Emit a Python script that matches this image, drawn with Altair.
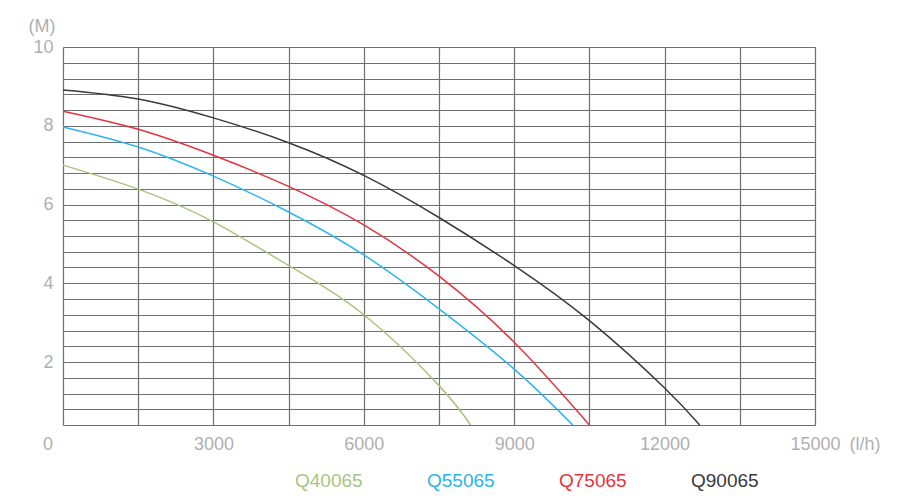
import altair as alt
import pandas as pd

# flow (l/h) and head (M)
flow_q40065 = [0, 1500, 3000, 4500, 6000, 7500, 8130]
head_q40065 = [7.0, 6.39, 5.56, 4.45, 3.20, 1.40, 0.4]

flow_q55065 = [0, 1500, 3000, 4500, 6000, 7500, 9000, 10170]
head_q55065 = [7.97, 7.46, 6.72, 5.81, 4.72, 3.35, 1.82, 0.4]

flow_q75065 = [0, 1500, 3000, 4500, 6000, 7500, 9000, 10500]
head_q75065 = [8.37, 7.91, 7.25, 6.46, 5.48, 4.18, 2.50, 0.4]

flow_q90065 = [0, 1500, 3000, 4500, 6000, 7500, 9000, 10500, 12000, 12700]
head_q90065 = [8.91, 8.68, 8.20, 7.57, 6.74, 5.67, 4.45, 3.05, 1.34, 0.4]

series_names = ["Q40065", "Q55065", "Q75065", "Q90065"]
series_colors = ["#a9c47f", "#2bb5ee", "#e2343f", "#3a3a3a"]

x_grid = [i * 1500 for i in range(11)]
y_grid = [round(0.4 * k + 0.4, 1) for k in range(25)]

rows = []
for name, fl, hd in [
    ("Q40065", flow_q40065, head_q40065),
    ("Q55065", flow_q55065, head_q55065),
    ("Q75065", flow_q75065, head_q75065),
    ("Q90065", flow_q90065, head_q90065),
]:
    for i, (f, h) in enumerate(zip(fl, hd)):
        rows.append({"series": name, "flow": f, "head": h, "order": i})
df = pd.DataFrame(rows)

FONT = "Liberation Sans"
LABEL_COLOR = "#b0b0b0"
GRID_COLOR = "#6e6e6e"

color_expr = "{" + ",".join(f"'{n}':'{c}'" for n, c in zip(series_names, series_colors)) + "}[datum.value]"

x_scale = alt.Scale(domain=[0, 15000], nice=False, zero=False)
y_scale = alt.Scale(domain=[0.4, 10], nice=False, zero=False)

lines = alt.Chart(df).mark_line(interpolate="natural", strokeWidth=1.5).encode(
    x=alt.X("flow:Q", scale=x_scale, axis=alt.Axis(
        values=x_grid, tickCount=30, title=None, grid=True, gridColor=GRID_COLOR, gridWidth=1.2,
        gridOpacity=1, ticks=False, domain=False, labelFlush=False, labelOverlap=False,
        labelExpr="(datum.value % 3000 == 0 && datum.value > 0) ? format(datum.value, 'd') : ''",
        labelFont=FONT, labelFontSize=18, labelColor=LABEL_COLOR, labelPadding=10)),
    y=alt.Y("head:Q", scale=y_scale, axis=alt.Axis(
        values=y_grid, tickCount=30, title=None, grid=True, gridColor=GRID_COLOR, gridWidth=1.2,
        gridOpacity=1, ticks=False, domain=False, labelFlush=False, labelOverlap=False,
        labelExpr="(abs(datum.value - round(datum.value / 2) * 2) < 0.001) ? format(datum.value, 'd') : ''",
        labelFont=FONT, labelFontSize=18, labelColor=LABEL_COLOR, labelPadding=10)),
    color=alt.Color("series:N", scale=alt.Scale(domain=series_names, range=series_colors),
                    legend=alt.Legend(
                        title=None, orient="none", direction="horizontal", legendX=213, legendY=424,
                        symbolOpacity=0, symbolSize=0, symbolStrokeWidth=0, labelOffset=0,
                        columnPadding=45, labelFont=FONT, labelFontSize=19,
                        labelColor={"expr": color_expr})),
    order="order:Q",
)

ann = pd.DataFrame({
    "text": ["0", "(M)", "(l/h)"],
    "x": [0, 0, 15000],
    "y": [0.4, 10, 0.4],
    "dx": [-15, -21, 50],
    "dy": [20, -20, 20],
})

texts = []
for _, r in ann.iterrows():
    texts.append(alt.Chart(pd.DataFrame([r])).mark_text(
        font=FONT, fontSize=18, color=LABEL_COLOR, dx=int(r["dx"]), dy=int(r["dy"])
    ).encode(
        x=alt.X("x:Q", scale=x_scale),
        y=alt.Y("y:Q", scale=y_scale),
        text="text:N",
    ))

chart = alt.layer(lines, *texts).properties(
    width=752, height=378,
    autosize=alt.AutoSizeParams(type="none"),
    padding={"left": 55, "top": 39, "right": 77, "bottom": 75},
).configure_view(stroke=None).configure(background="white")

chart.save("out.html", embed_options={"renderer": "svg", "actions": False})
